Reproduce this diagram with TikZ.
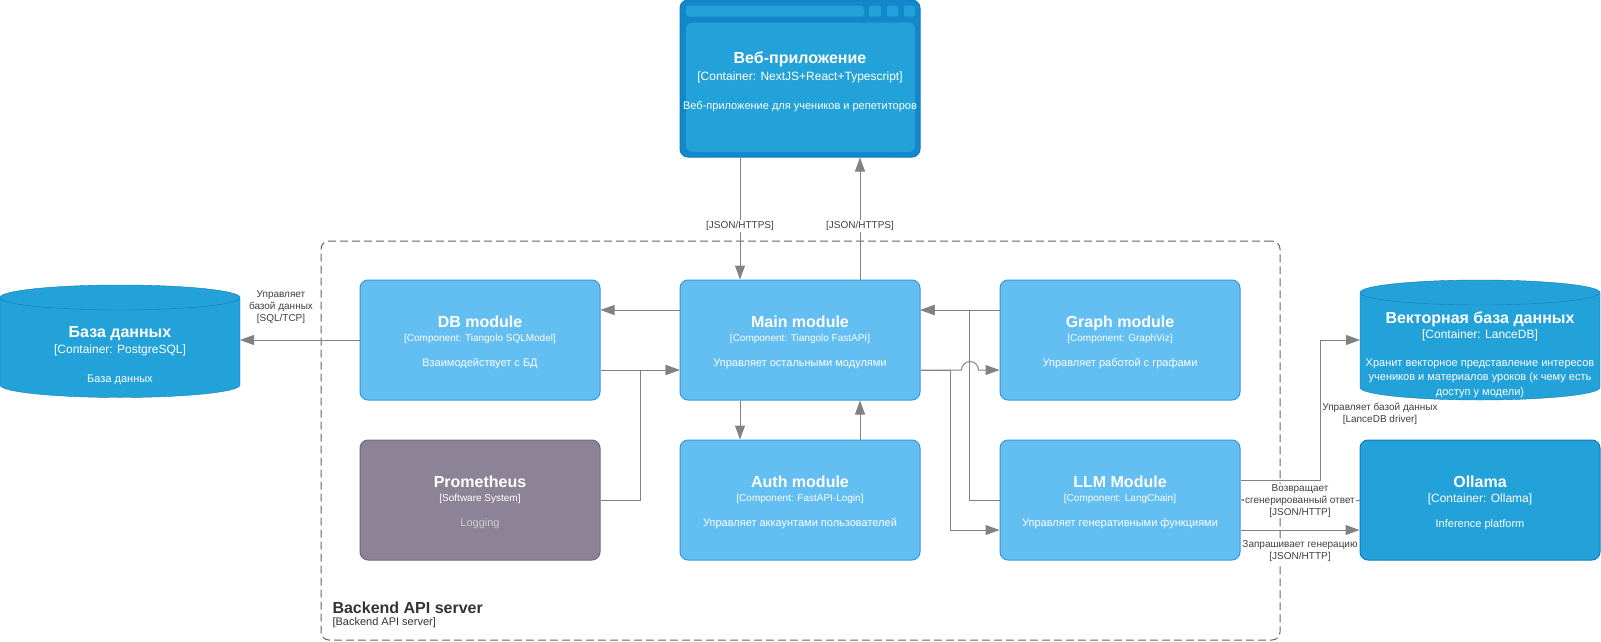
\documentclass[tikz,border=0pt]{standalone}
\usepackage{fontspec}
\setmainfont{Liberation Sans}
\usepackage{xcolor}
\usepackage{tikz}
\usetikzlibrary{arrows.meta,positioning}
\definecolor{contfill}{HTML}{23A2D9}
\definecolor{contline}{HTML}{0E7DBE}
\definecolor{webdark}{HTML}{1288CB}
\definecolor{compfill}{HTML}{63BEF2}
\definecolor{compline}{HTML}{3C97DD}
\definecolor{extfill}{HTML}{8C8496}
\definecolor{extline}{HTML}{736782}
\definecolor{linegray}{HTML}{828282}
\definecolor{lblgray}{HTML}{404040}
\definecolor{boundgray}{HTML}{666666}
\newcommand{\dbcyl}[1]{%
  \filldraw[fill=contfill, draw=contline] ([yshift=-12.5pt]#1.north west) -- ([yshift=12.5pt]#1.south west)
    arc[start angle=180, end angle=360, x radius=120pt, y radius=12.5pt]
    -- ([yshift=-12.5pt]#1.north east)
    arc[start angle=0, end angle=180, x radius=120pt, y radius=12.5pt] -- cycle;
  \draw[contline] ([yshift=-12.5pt]#1.north west) arc[start angle=180, end angle=360, x radius=120pt, y radius=12.5pt];
}
\tikzset{
  box/.style={minimum width=240pt, minimum height=120pt, inner sep=0pt, rounded corners=8pt, line width=1pt},
  comp/.style={box, draw=compline, fill=compfill},
  cont/.style={box, draw=contline, fill=contfill},
  ext/.style={box, draw=extline, fill=extfill},
  dbbox/.style={minimum width=240pt, inner sep=0pt, outer sep=0pt},
  ttl/.style={anchor=base, text=white, font=\bfseries\fontsize{16}{18}\selectfont},
  tech/.style={anchor=base, text=white, font=\fontsize{10}{12}\selectfont},
  ctech/.style={anchor=base, text=white, font=\fontsize{12}{14}\selectfont},
  desc/.style={anchor=base, text=white, font=\fontsize{11}{14.5}\selectfont},
  conn/.style={draw=linegray, line width=1pt, -{Triangle[length=14pt,width=10pt]}},
  lbl/.style={text=lblgray, font=\fontsize{10}{12}\selectfont, fill=white, inner sep=1pt, align=center},
}
\begin{document}
\begin{tikzpicture}[x=1pt,y=-1pt]
  \useasboundingbox (0,0) rectangle (1601,642);

  % Backend boundary
  \node[draw=boundgray, line width=1pt, dash pattern=on 8pt off 4pt, rounded corners=8pt,
        minimum width=959pt, minimum height=399pt, inner sep=0pt] (api) at (800.5,440.5) {};
  \node[anchor=base west, text=black!80, font=\bfseries\fontsize{16}{18}\selectfont] (apiT) at (329,613.4) {Backend API server};
  \node[anchor=base west, text=black!80, font=\fontsize{11}{13}\selectfont] (apiS) at (329,625) {[Backend API server]};

  % Web app
  \node[box, minimum height=157pt, draw=contline, fill=webdark] (web) at (800,78.5) {};
  \fill[contfill, rounded corners=3pt] (686,5.7) rectangle (864,16.7);
  \fill[contfill, rounded corners=2pt] (869,5.7) rectangle (881,16.7);
  \fill[contfill, rounded corners=2pt] (887,5.7) rectangle (898,16.7);
  \fill[contfill, rounded corners=2pt] (904,5.7) rectangle (915,16.7);
  \fill[contfill, rounded corners=6pt] (686,22.7) rectangle (915,152);
  \node[ttl] (webT) at (800,63.7) {Веб-приложение};
  \node[ctech] (webS) at (800,80.3) {[Container: NextJS+React+Typescript]};
  \node[desc] (webD) at (800,110) {Веб-приложение для учеников и репетиторов};

  % Databases
  \node[dbbox, minimum height=112.5pt] (pg) at (120,341.25) {};
  \dbcyl{pg}
  \node[ttl] (pgT) at (120,337.4) {База данных};
  \node[ctech] (pgS) at (120,353.3) {[Container: PostgreSQL]};
  \node[desc] (pgD) at (120,382) {База данных};

  \node[dbbox, minimum height=120pt] (vec) at (1480,340) {};
  \dbcyl{vec}
  \node[ttl] (vecT) at (1480,323.4) {Векторная база данных};
  \node[ctech] (vecS) at (1480,338.3) {[Container: LanceDB]};
  \node[desc, anchor=north, align=center, inner sep=0pt] (vecD) at (1480,358.5)
    {Хранит векторное представление интересов\\учеников и материалов уроков (к чему есть\\доступ у модели)};

  % Modules
  \node[comp] (db) at (480,340) {};
  \node[ttl] (dbT) at (480,327.5) {DB module};
  \node[tech] (dbS) at (480,341.6) {[Component: Tiangolo SQLModel]};
  \node[desc] (dbD) at (480,366) {Взаимодействует с БД};

  \node[comp] (main) at (800,340) {};
  \node[ttl] (mainT) at (800,327.5) {Main module};
  \node[tech] (mainS) at (800,341.6) {[Component: Tiangolo FastAPI]};
  \node[desc] (mainD) at (800,366) {Управляет остальными модулями};

  \node[comp] (graph) at (1120,340) {};
  \node[ttl] (graphT) at (1120,327.5) {Graph module};
  \node[tech] (graphS) at (1120,341.6) {[Component: GraphViz]};
  \node[desc] (graphD) at (1120,366) {Управляет работой с графами};

  \node[ext] (prom) at (480,500) {};
  \node[ttl] (promT) at (480,487.5) {Prometheus};
  \node[tech] (promS) at (480,501.6) {[Software System]};
  \node[desc, text=black!20] (promD) at (480,526) {Logging};

  \node[comp] (auth) at (800,500) {};
  \node[ttl] (authT) at (800,487.5) {Auth module};
  \node[tech] (authS) at (800,501.6) {[Component: FastAPI-Login]};
  \node[desc] (authD) at (800,526) {Управляет аккаунтами пользователей};

  \node[comp] (llm) at (1120,500) {};
  \node[ttl] (llmT) at (1120,487.5) {LLM Module};
  \node[tech] (llmS) at (1120,501.6) {[Component: LangChain]};
  \node[desc] (llmD) at (1120,526) {Управляет генеративными функциями};

  \node[cont] (oll) at (1480,500) {};
  \node[ttl] (ollT) at (1480,487) {Ollama};
  \node[ctech] (ollS) at (1480,502.3) {[Container: Ollama]};
  \node[desc] (ollD) at (1480,527) {Inference platform};

  % Connectors
  \draw[conn] ([xshift=-60]web.south) -- ([xshift=-60]main.north);
  \draw[conn] ([xshift=60]main.north) -- ([xshift=60]web.south);
  \draw[conn] ([xshift=-60]main.south) -- ([xshift=-60]auth.north);
  \draw[conn] ([xshift=60]auth.north) -- ([xshift=60]main.south);
  \draw[conn] (db.west) -- (db.west -| pg.east);
  \draw[conn] ([yshift=30]main.west) -- ([yshift=30]db.east);
  \draw[conn] ([yshift=-30]db.east) -- ([yshift=-30]main.west);
  \draw[conn] (prom.east) -- ++(40,0) |- ([yshift=-30]main.west);
  \draw[conn] ([yshift=30]graph.west) -- ([yshift=30]main.east);
  \draw[conn] (llm.west) -- ++(-30,0) |- ([yshift=30]main.east);
  \draw[conn] ([yshift=-30]main.east) -- (961.5,370) arc[start angle=180, end angle=0, radius=8.5pt] -- ([yshift=-30]graph.west);
  \draw[conn] ([yshift=-30]main.east) -- ++(30,0) |- ([yshift=-30]llm.west);
  \draw[conn] ([yshift=20]llm.east) -- ++(80,0) |- (vec.west);
  \draw[conn] (oll.west) -- (llm.east);
  \draw[conn] ([yshift=-30]llm.east) -- ([yshift=-30]oll.west);

  % Connector labels
  \node[lbl] (webIn) at (740,226) {[JSON/HTTPS]};
  \node[lbl] (webOut) at (860,226) {[JSON/HTTPS]};
  \node[lbl] (pgL) at (281,307) {Управляет\\базой данных\\{}[SQL/TCP]};
  \node[lbl, fill=none] (vecL) at (1380,414) {Управляет базой данных\\{}[LanceDB driver]};
  \node[lbl] (ollRet) at (1300,501) {Возвращает\\сгенерированный ответ\\{}[JSON/HTTP]};
  \node[lbl] (ollReq) at (1300,551) {Запрашивает генерацию\\{}[JSON/HTTP]};
\end{tikzpicture}
\end{document}
